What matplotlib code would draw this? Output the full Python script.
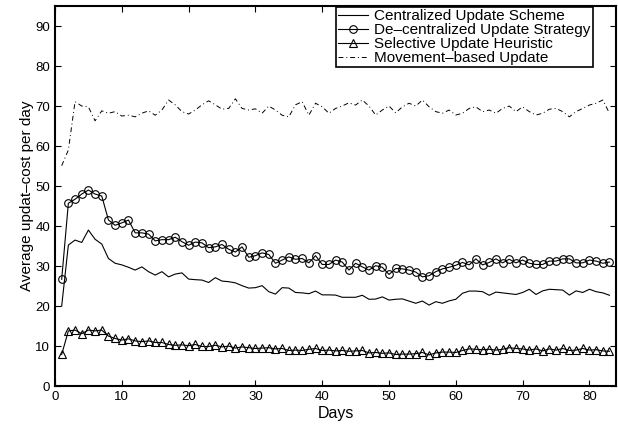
import matplotlib
matplotlib.use("Agg")
import matplotlib.pyplot as plt

days = list(range(1, 84))

centralized = [20.0, 35.25, 36.5, 35.9, 39.0, 36.7, 35.5, 31.9, 30.7, 30.3, 29.7, 29.0, 29.8, 28.6,
               27.75, 28.6, 27.3, 28.0, 28.3, 26.75, 26.6,
               26.5, 25.9, 27.1, 26.25, 26.1, 25.8, 25.1, 24.5, 24.6, 25.1, 23.6, 23.0, 24.6, 24.5,
               23.4, 23.3, 23.1, 23.75,
               22.8, 22.8, 22.75, 22.2, 22.2, 22.2, 22.7, 21.7, 21.75, 22.3, 21.5, 21.7, 21.8, 21.25,
               20.7, 21.25, 20.25, 21.1, 20.7, 21.3, 21.7, 23.2, 23.75, 23.75, 23.6, 22.7, 23.5, 23.3,
               23.1, 22.9, 23.4, 24.2, 22.9, 23.8, 24.2, 24.1, 24.0, 22.75, 23.8, 23.4, 24.2, 23.6,
               23.3, 22.7]

decentralized = [26.7, 45.7, 46.7, 48.0, 49.0, 48.0, 47.5, 41.5, 40.2, 40.8, 41.5, 38.3, 38.3, 38.0,
                 36.3, 36.6, 36.6, 37.2, 36.1, 35.2, 36.0,
                 35.8, 34.6, 34.8, 35.4, 34.2, 33.5, 34.8, 32.2, 32.6, 33.3, 32.9, 30.7, 31.5, 32.3,
                 31.7, 31.9, 30.8, 32.6,
                 30.4, 30.4, 31.5, 31.0, 29.0, 30.7, 29.8, 29.0, 30.1, 29.7, 27.9, 29.4, 29.3, 29.0,
                 28.5, 27.3, 27.6, 28.6, 29.3, 29.7, 30.2, 30.9, 30.3, 31.8, 30.3, 30.9, 31.8, 30.8,
                 31.7, 30.8, 31.5, 30.7, 30.4, 30.4, 31.25, 31.25, 31.8, 31.8, 30.8, 30.8, 31.5, 31.25,
                 30.7, 31.0]

selective = [7.9, 13.8, 14.0, 13.1, 14.0, 13.8, 14.0, 12.5, 11.9, 11.5, 11.8, 11.3, 11.1, 11.3,
             10.9, 10.9, 10.4, 10.2, 10.3, 10.1,
             10.4, 9.9, 9.9, 10.2, 9.8, 10.0, 9.5, 9.8, 9.6, 9.4, 9.5, 9.6, 9.3, 9.4, 8.9, 9.0,
             8.9, 9.2, 9.4, 8.9,
             9.0, 8.8, 8.9, 8.7, 8.8, 8.9, 8.3, 8.4, 8.2, 8.3, 7.9, 8.0, 8.0, 8.1, 8.4, 7.8, 8.3,
             8.5, 8.5, 8.4,
             8.9, 9.3, 9.2, 9.1, 9.2, 9.0, 9.2, 9.6, 9.4, 9.3, 9.0, 9.3, 8.8, 9.3, 9.0, 9.4, 8.9,
             9.0, 9.4, 9.0, 9.1, 8.8, 8.7]

movement = [55.1, 59.0, 71.1, 70.0, 69.8, 66.3, 68.8, 68.2, 68.6, 67.5, 67.7, 67.3, 68.2, 68.8,
            67.7, 69.0, 71.5, 70.3, 68.6, 68.0, 69.0, 70.3, 71.3, 70.3, 69.2, 69.4, 71.8, 69.4,
            69.0, 69.3, 68.2, 70.0, 69.0, 67.7, 67.3, 70.3, 71.1, 67.7, 70.7,
            69.8, 68.2, 69.4, 70.0, 70.8, 70.25, 71.5, 70.0, 67.75, 69.0, 70.0, 68.3, 69.8, 70.7,
            70.0, 71.5, 69.8, 68.6, 68.2, 69.0, 67.75, 68.2, 69.4, 69.8, 68.6, 69.0, 68.2, 69.4,
            70.0, 68.6, 69.8, 68.6, 67.75, 68.2, 69.2, 69.4, 68.6, 67.3, 68.6, 69.4, 70.25, 70.7,
            71.5, 68.2]

labels = ["Centralized Update Scheme", "De\u2013centralized Update Strategy",
          "Selective Update Heuristic", "Movement\u2013based Update"]

plt.rcParams['font.family'] = ['Liberation Sans', 'DejaVu Sans']

fig = plt.figure(figsize=(6.18, 4.29), dpi=100)
ax = fig.add_axes([0.089, 0.100, 0.908, 0.886])

ax.plot(days, centralized, color='black', linewidth=0.8, label=labels[0])
ax.plot(days, decentralized, color='black', linewidth=0.8, marker='o', markersize=5.5,
        markerfacecolor='none', markeredgewidth=0.8, label=labels[1])
ax.plot(days, selective, color='black', linewidth=0.8, marker='^', markersize=5.5,
        markerfacecolor='none', markeredgewidth=0.8, label=labels[2])
ax.plot(days, movement, color='black', linewidth=0.7, linestyle=(0, (5, 3, 1, 3)),
        label=labels[3])

ax.set_xlim(0, 84)
ax.set_ylim(0, 95)
ax.set_xticks(range(0, 81, 10))
ax.set_yticks(range(0, 91, 10))
ax.tick_params(direction='in', top=True, right=True, labelsize=9.5, length=4, width=0.8)
for s in ax.spines.values():
    s.set_linewidth(1.5)

ax.set_xlabel("Days", fontsize=11.5, labelpad=2)
ax.set_ylabel("Average updat\u2013cost per day", fontsize=11, labelpad=1)

leg = ax.legend(loc='upper right', bbox_to_anchor=(0.959, 0.998), fontsize=11, fancybox=False,
                framealpha=1, edgecolor='black', handlelength=2.0, borderpad=0.15,
                labelspacing=0.0, handletextpad=0.4, borderaxespad=0.0)
leg.get_frame().set_linewidth(1.2)

fig.savefig("out.png", dpi=100)
